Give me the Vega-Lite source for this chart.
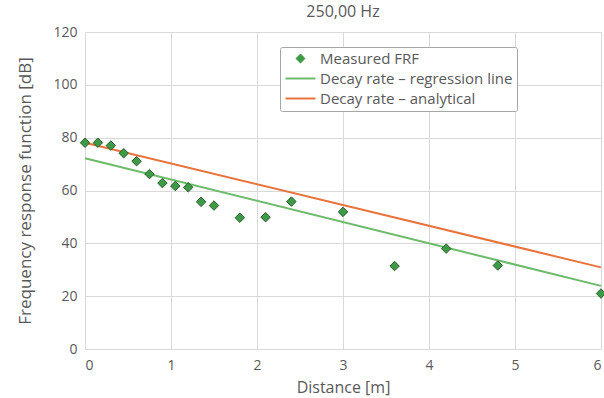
{
  "$schema": "https://vega.github.io/schema/vega-lite/v6.json",
  "width": 516,
  "height": 317,
  "autosize": "none",
  "padding": {"left": 85, "top": 32, "right": 3, "bottom": 49},
  "background": "white",
  "config": {
    "font": "Open Sans",
    "view": {"stroke": null},
    "axis": {
      "labelColor": "#595959",
      "titleColor": "#595959",
      "labelFontSize": 14,
      "titleFontSize": 16,
      "titleFontWeight": "normal",
      "gridColor": "#d9d9d9",
      "gridWidth": 1,
      "domain": false,
      "ticks": false,
      "labelOverlap": false
    }
  },
  "title": {
    "text": "250,00 Hz",
    "fontSize": 16,
    "fontWeight": "normal",
    "color": "#595959",
    "frame": "group",
    "anchor": "middle",
    "offset": 5
  },
  "datasets": {
    "frf": [
      {"series": "Measured FRF", "distance": 0.0, "frf": 78.1},
      {"series": "Measured FRF", "distance": 0.15, "frf": 78.1},
      {"series": "Measured FRF", "distance": 0.3, "frf": 77.0},
      {"series": "Measured FRF", "distance": 0.45, "frf": 74.1},
      {"series": "Measured FRF", "distance": 0.6, "frf": 71.1},
      {"series": "Measured FRF", "distance": 0.75, "frf": 66.2},
      {"series": "Measured FRF", "distance": 0.9, "frf": 62.8},
      {"series": "Measured FRF", "distance": 1.05, "frf": 61.7},
      {"series": "Measured FRF", "distance": 1.2, "frf": 61.2},
      {"series": "Measured FRF", "distance": 1.35, "frf": 55.7},
      {"series": "Measured FRF", "distance": 1.5, "frf": 54.3},
      {"series": "Measured FRF", "distance": 1.8, "frf": 49.7},
      {"series": "Measured FRF", "distance": 2.1, "frf": 49.9},
      {"series": "Measured FRF", "distance": 2.4, "frf": 55.8},
      {"series": "Measured FRF", "distance": 3.0, "frf": 51.9},
      {"series": "Measured FRF", "distance": 3.6, "frf": 31.4},
      {"series": "Measured FRF", "distance": 4.2, "frf": 38.0},
      {"series": "Measured FRF", "distance": 4.8, "frf": 31.6},
      {"series": "Measured FRF", "distance": 6.0, "frf": 21.0}
    ],
    "lines": [
      {"series": "Decay rate – regression line", "distance": 0, "frf": 72.2},
      {"series": "Decay rate – regression line", "distance": 6, "frf": 23.9},
      {"series": "Decay rate – analytical", "distance": 0, "frf": 78.1},
      {"series": "Decay rate – analytical", "distance": 6, "frf": 30.9}
    ]
  },
  "encoding": {
    "x": {
      "field": "distance",
      "type": "quantitative",
      "scale": {"domain": [0, 6], "nice": false},
      "axis": {"title": "Distance [m]", "values": [0,1,2,3,4,5,6], "labelPadding": 9, "titlePadding": 7}
    },
    "y": {
      "field": "frf",
      "type": "quantitative",
      "scale": {"domain": [0, 120], "nice": false},
      "axis": {"title": "Frequency response function [dB]", "titleFontSize": 17, "values": [0,20,40,60,80,100,120], "labelPadding": 8, "titlePadding": 18}
    },
    "color": {
      "field": "series",
      "type": "nominal",
      "scale": {
        "domain": ["Measured FRF", "Decay rate – regression line", "Decay rate – analytical"],
        "range": ["#3d9b46", "#6cbb6a", "#e8733b"]
      },
      "legend": {
        "title": null,
        "orient": "none",
        "legendX": 195,
        "legendY": 15,
        "direction": "vertical",
        "strokeColor": "#a6a6a6",
        "fillColor": "white",
        "padding": 4,
        "cornerRadius": 2,
        "labelFontSize": 15,
        "labelLimit": 400,
        "labelColor": "#595959",
        "labelFont": "Open Sans",
        "rowPadding": 4,
        "symbolSize": 900,
        "symbolOffset": 9,
        "labelOffset": 12,
        "encode": {
          "symbols": {
            "update": {
              "size": {"signal": "datum.value === 'Measured FRF' ? 80 : 900"},
              "fill": {"signal": "datum.value === 'Measured FRF' ? '#3d9b46' : 'transparent'"},
              "stroke": {"signal": "datum.value === 'Measured FRF' ? '#2f5a33' : (datum.value === 'Decay rate – analytical' ? '#e8733b' : '#6cbb6a')"},
              "strokeWidth": {"signal": "datum.value === 'Measured FRF' ? 1 : 2"},
              "opacity": {"value": 1}
            }
          }
        }
      }
    }
  },
  "layer": [
    {
      "data": {"name": "lines"},
      "mark": {"type": "line", "strokeWidth": 2},
      "encoding": {}
    },
    {
      "data": {"name": "frf"},
      "mark": {"type": "point", "filled": true, "opacity": 1, "size": 90, "stroke": "#2f5a33", "strokeWidth": 1},
      "encoding": {
        "shape": {
          "field": "series",
          "type": "nominal",
          "scale": {
            "domain": ["Measured FRF", "Decay rate – regression line", "Decay rate – analytical"],
            "range": ["diamond", "stroke", "stroke"]
          }
        }
      }
    }
  ]
}
